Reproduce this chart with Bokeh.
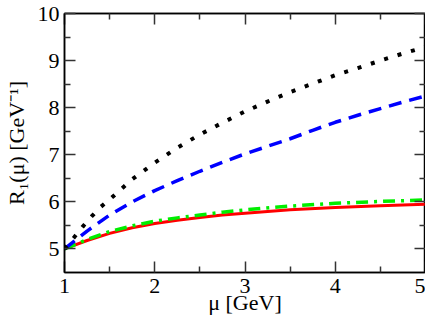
from bokeh.plotting import figure
from bokeh.models import LinearAxis, Range1d, FixedTicker, CustomJSTickFormatter
from bokeh.embed import file_html
from bokeh.resources import INLINE

# ---- data ----
x_dot = [1.0, 1.1, 1.2, 1.3, 1.4, 1.5, 1.75, 2.0, 2.25, 2.5, 2.75, 3.0, 3.25, 3.5, 3.75, 4.0, 4.25, 4.5, 4.75, 5.0]
y_dot = [5.0, 5.23, 5.47, 5.69, 5.89, 6.05, 6.48, 6.83, 7.15, 7.43, 7.68, 7.92, 8.13, 8.33, 8.51, 8.69, 8.84, 9.00, 9.15, 9.29]

x_dash = [1.0, 1.25, 1.5, 1.75, 2.0, 2.25, 2.5, 2.75, 3.0, 3.25, 3.5, 3.75, 4.0, 4.25, 4.5, 4.75, 5.0]
y_dash = [5.0, 5.38, 5.72, 6.00, 6.24, 6.45, 6.65, 6.84, 7.02, 7.18, 7.34, 7.52, 7.69, 7.84, 7.98, 8.12, 8.25]

x_low = [1.0, 1.25, 1.5, 1.75, 2.0, 2.25, 2.5, 2.75, 3.0, 3.5, 4.0, 4.5, 5.0]
y_solid = [5.0, 5.18, 5.33, 5.45, 5.54, 5.61, 5.67, 5.72, 5.76, 5.83, 5.88, 5.92, 5.95]
y_dashdot = [5.0, 5.20, 5.37, 5.49, 5.59, 5.66, 5.72, 5.78, 5.83, 5.91, 5.97, 6.01, 6.04]

x_ticks = [1, 2, 3, 4, 5]
x_minor = [1.5, 2.5, 3.5, 4.5]
y_ticks = [5, 6, 7, 8, 9, 10]
y_minor = [5.5, 6.5, 7.5, 8.5, 9.5]

x_label = "μ [GeV]"
y_label = "R₁(μ) [GeV⁻¹]"

FONT = "Liberation Serif"

p = figure(width=425, height=317, x_range=Range1d(1, 5), y_range=Range1d(4.5, 10),
           output_backend="svg", toolbar_location=None,
           min_border_left=58, min_border_right=0, min_border_top=13, min_border_bottom=0)
p.grid.visible = False
p.outline_line_color = "black"
p.outline_line_width = 1.5


def style_axis(ax, labels=True):
    ax.axis_line_color = "black"
    ax.axis_line_width = 1.5
    ax.major_tick_in = 11
    ax.major_tick_out = 0
    ax.minor_tick_in = 6
    ax.minor_tick_out = 0
    ax.major_tick_line_color = "#333333"
    ax.minor_tick_line_color = "#333333"
    ax.major_tick_line_width = 1.5
    ax.minor_tick_line_width = 1.5
    ax.major_label_text_font = FONT
    ax.major_label_text_color = "black"
    if labels:
        ax.major_label_text_font_size = "22px"
        ax.major_label_standoff = 6
    else:
        ax.major_label_text_font_size = "0px"
        ax.major_label_standoff = 0
        ax.formatter = CustomJSTickFormatter(code="return ''")


xa = p.xaxis[0]
xa.ticker = FixedTicker(ticks=x_ticks, minor_ticks=x_minor)
style_axis(xa)
xa.axis_label = x_label
xa.axis_label_text_font = FONT
xa.axis_label_text_font_style = "normal"
xa.axis_label_text_font_size = "22px"
xa.axis_label_text_color = "black"
xa.axis_label_standoff = -6

ya = p.yaxis[0]
ya.ticker = FixedTicker(ticks=y_ticks, minor_ticks=y_minor)
style_axis(ya)
ya.major_label_standoff = 5
ya.axis_label = y_label
ya.axis_label_text_font = FONT
ya.axis_label_text_font_style = "normal"
ya.axis_label_text_font_size = "22px"
ya.axis_label_text_color = "black"
ya.axis_label_standoff = 6

top = LinearAxis(ticker=FixedTicker(ticks=x_ticks, minor_ticks=x_minor))
style_axis(top, labels=False)
p.add_layout(top, "above")

right = LinearAxis(ticker=FixedTicker(ticks=y_ticks, minor_ticks=y_minor))
style_axis(right, labels=False)
p.add_layout(right, "right")

p.line(x_low, y_solid, line_color="#ff0000", line_width=3)
p.line(x_low, y_dashdot, line_color="#00ee00", line_width=3.5, line_dash="12 6 3 6")
p.line(x_dash, y_dash, line_color="#0000ff", line_width=3.5, line_dash="13 8")
p.line(x_dot, y_dot, line_color="black", line_width=4, line_dash="4 10")

open("out.html", "w").write(file_html(p, INLINE))
